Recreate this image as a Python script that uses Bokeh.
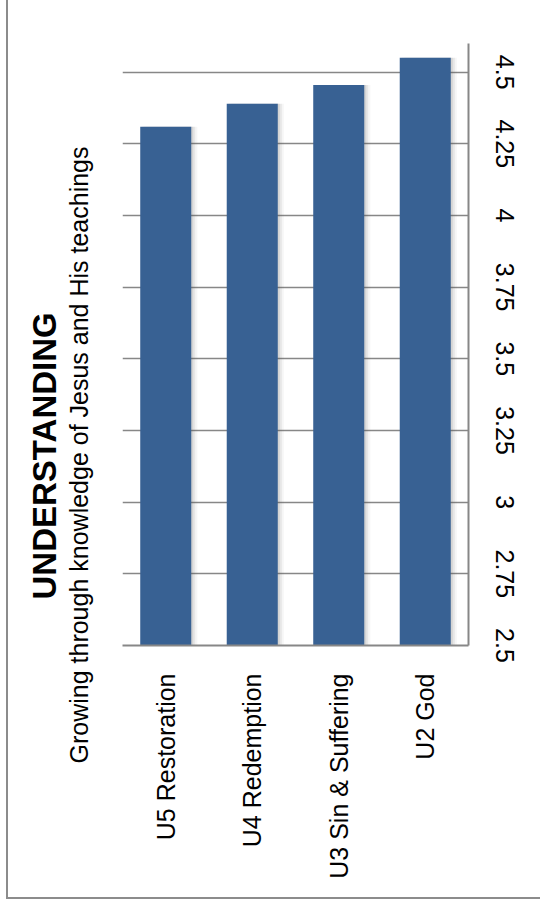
import math
from bokeh.plotting import figure
from bokeh.models import ColumnDataSource, FixedTicker, Title, Range1d
from bokeh.transform import dodge
from bokeh.embed import file_html
from bokeh.resources import INLINE

categories = ["U5 Restoration", "U4 Redemption", "U3 Sin & Suffering", "U2 God"]
scores = [4.31, 4.39, 4.455, 4.55]
tick_values = [2.5, 2.75, 3, 3.25, 3.5, 3.75, 4, 4.25, 4.5]
tick_labels = ["2.5", "2.75", "3", "3.25", "3.5", "3.75", "4", "4.25", "4.5"]
title_text = "UNDERSTANDING"
subtitle_text = "Growing through knowledge of Jesus and His teachings"

FONT = "Liberation Sans"
BAR = "#386193"
GRID = "#878787"

src = ColumnDataSource(data=dict(cat=categories, val=scores))

p = figure(width=534, height=899, x_range=categories, y_range=Range1d(2.5, 4.6),
           y_axis_location="right", output_backend="svg", toolbar_location=None,
           min_border_left=114, min_border_right=74, min_border_top=43, min_border_bottom=254)
p.outline_line_color = None
p.background_fill_color = "white"
p.border_fill_color = "white"
p.margin = (0, 0, 0, 6)
p.styles = {"border-left": "2px solid #8c8c8c", "border-bottom": "2px solid #8c8c8c"}

# soft shadow to the right of the bars
for off, a in [(0.023, 0.13), (0.046, 0.09), (0.069, 0.05)]:
    p.vbar(x=dodge("cat", off, range=p.x_range), top="val", bottom=2.5, width=0.59,
           source=src, fill_color="#555555", fill_alpha=a, line_color=None)
p.vbar(x="cat", top="val", bottom=2.5, width=0.59, source=src,
       fill_color=BAR, line_color=None)

p.xgrid.grid_line_color = None
p.ygrid.grid_line_color = GRID
p.ygrid.grid_line_width = 1.5
p.ygrid.ticker = FixedTicker(ticks=tick_values)

ya = p.yaxis[0]
ya.ticker = FixedTicker(ticks=tick_values)
ya.major_label_overrides = {t: l for t, l in zip(tick_values, tick_labels)}
ya.major_label_orientation = "parallel"
ya.major_label_text_font = FONT
ya.major_label_text_font_size = "25px"
ya.major_label_text_color = "black"
ya.major_label_standoff = 21
ya.major_tick_line_color = None
ya.minor_tick_line_color = None
ya.axis_line_color = GRID
ya.axis_line_width = 2

xa = p.xaxis[0]
xa.major_label_orientation = math.pi / 2
xa.major_label_text_font = FONT
xa.major_label_text_font_size = "25px"
xa.major_label_text_color = "black"
xa.major_label_standoff = 22
xa.major_tick_line_color = None
xa.axis_line_color = GRID
xa.axis_line_width = 2

p.add_layout(Title(text=subtitle_text, align="left", offset=-118, standoff=60,
                   text_font=FONT, text_font_size="25px", text_font_style="normal",
                   text_color="black"), "left")
p.add_layout(Title(text=title_text, align="left", offset=46, standoff=-60,
                   text_font=FONT, text_font_size="33px", text_font_style="bold",
                   text_color="black"), "left")

open("out.html", "w").write(file_html(p, INLINE))
